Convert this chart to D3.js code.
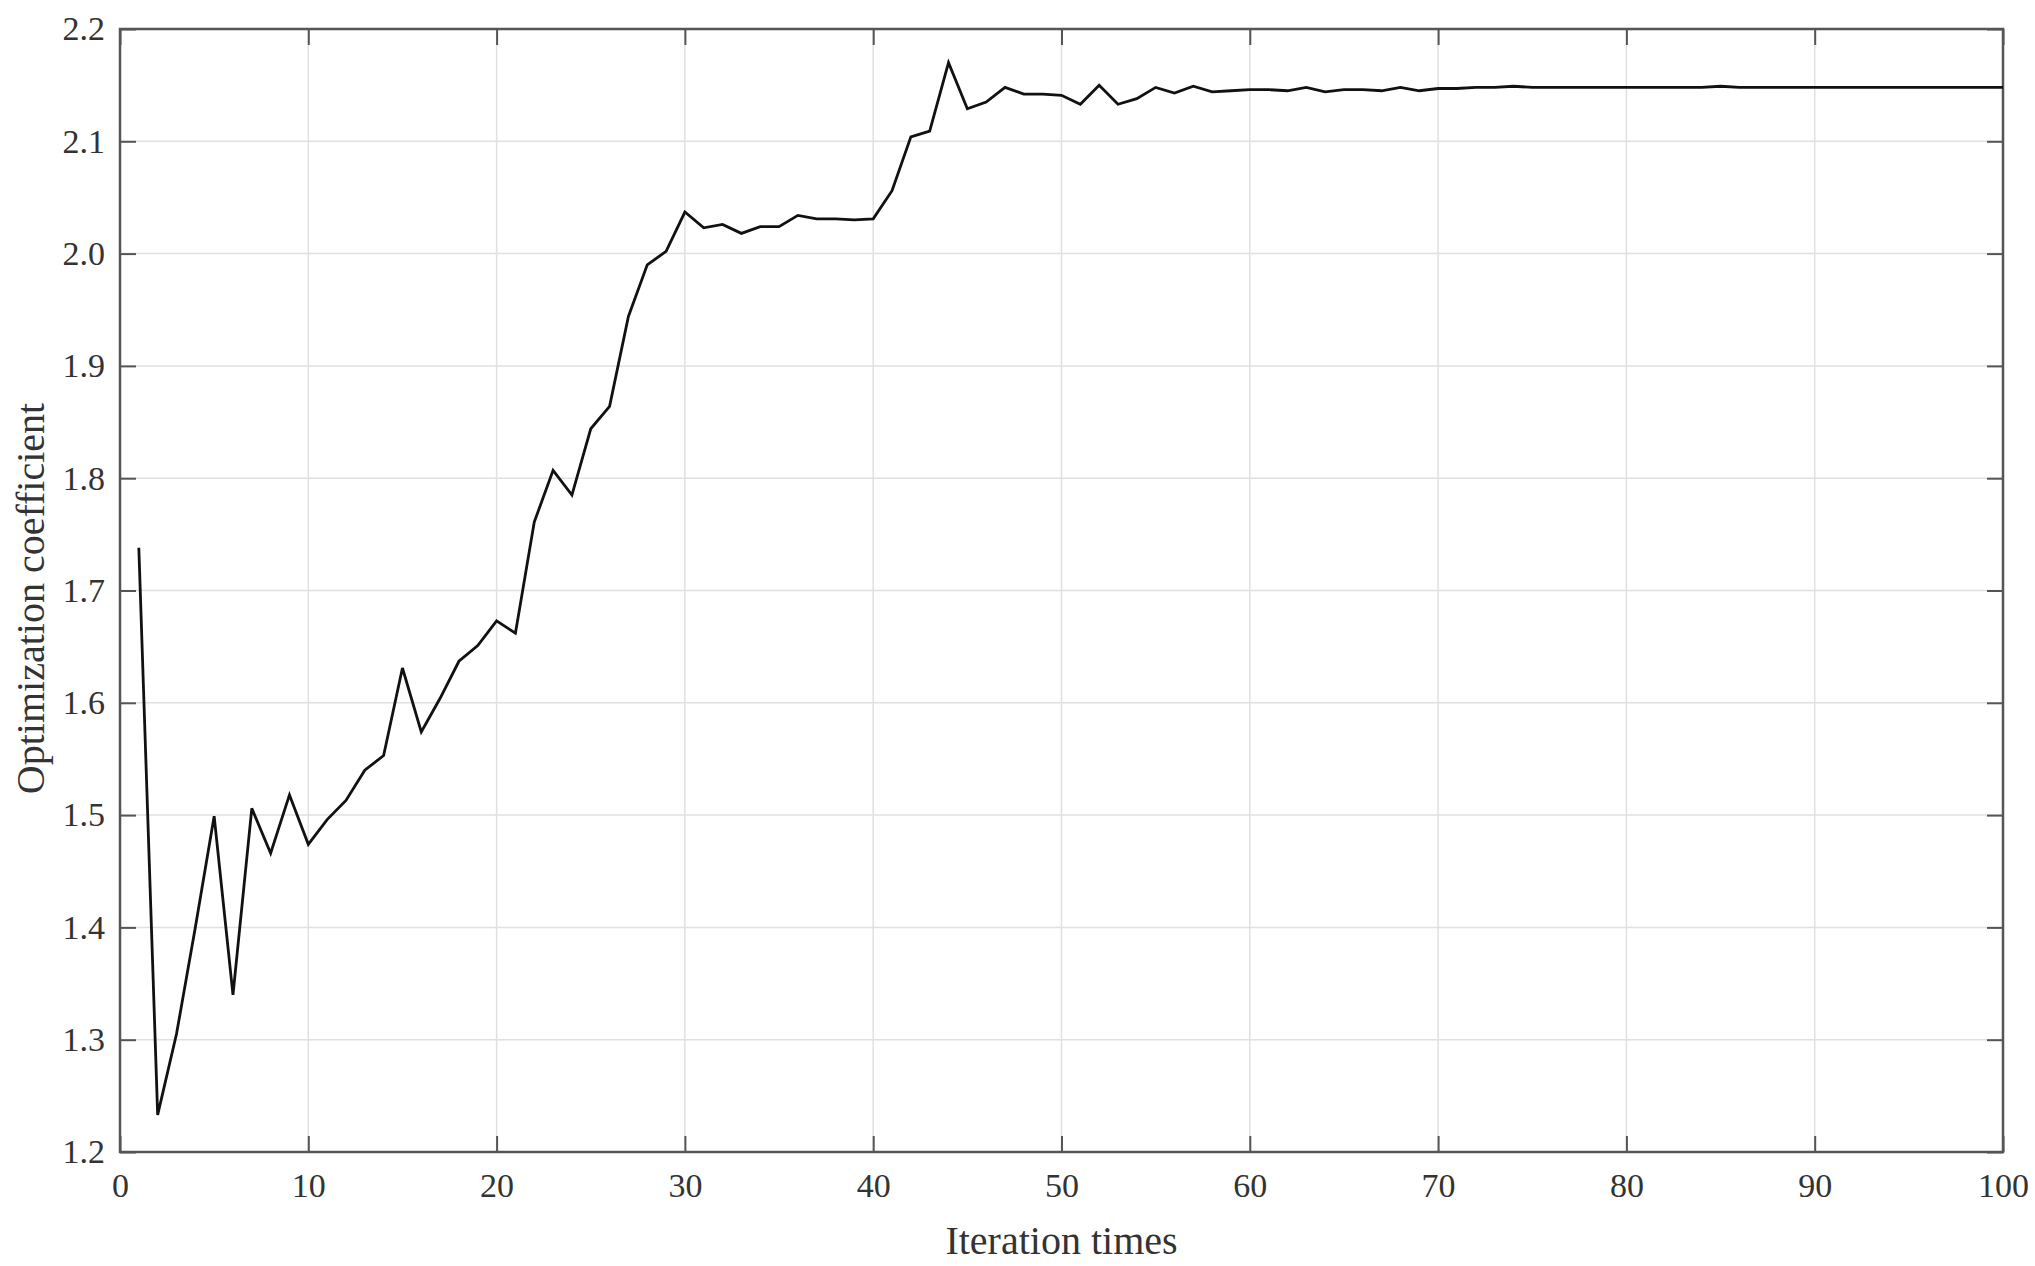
<html>
  <head>
    <meta charset="utf-8">
    <title>Optimization coefficient</title>
    <script src="https://d3js.org/d3.v7.min.js"></script>
    <style>
      body { margin: 0; background: #fff; }
      text { font-family: "Liberation Serif", "DejaVu Serif", serif; fill: #333; }
    </style>
  </head>
  <body>
    <svg id="chart" width="2035" height="1266"></svg>
    <script>

    // iteration index
    var iterations = d3.range(1, 101);

    // optimization coefficient per iteration
    var coefficient = [
      1.738, 1.233, 1.305, 1.400, 1.499, 1.340, 1.506, 1.466, 1.518, 1.474,
      1.496, 1.513, 1.540, 1.553, 1.631, 1.574, 1.604, 1.637, 1.651, 1.673,
      1.662, 1.761, 1.807, 1.785, 1.844, 1.864, 1.944, 1.990, 2.002, 2.037,
      2.023, 2.026, 2.018, 2.024, 2.024, 2.034, 2.031, 2.031, 2.030, 2.031,
      2.056, 2.104, 2.109, 2.170, 2.129, 2.135, 2.148, 2.142, 2.142, 2.141,
      2.133, 2.150, 2.133, 2.138, 2.148, 2.143, 2.149, 2.144, 2.145, 2.146,
      2.146, 2.145, 2.148, 2.144, 2.146, 2.146, 2.145, 2.148, 2.145, 2.147,
      2.147, 2.148, 2.148, 2.149, 2.148, 2.148, 2.148, 2.148, 2.148, 2.148,
      2.148, 2.148, 2.148, 2.148, 2.149, 2.148, 2.148, 2.148, 2.148, 2.148,
      2.148, 2.148, 2.148, 2.148, 2.148, 2.148, 2.148, 2.148, 2.148, 2.148
    ];

    var xTicks = [0, 10, 20, 30, 40, 50, 60, 70, 80, 90, 100];
    var yTicks = [1.2, 1.3, 1.4, 1.5, 1.6, 1.7, 1.8, 1.9, 2.0, 2.1, 2.2];

    var xTitle = "Iteration times";
    var yTitle = "Optimization coefficient";

    var margin = {top: 29, right: 32, bottom: 114, left: 120};
    var width = 2035 - margin.left - margin.right;
    var height = 1266 - margin.top - margin.bottom;

    var data = iterations.map(function(d, i) { return {x: d, y: coefficient[i]}; });

    var sx = d3.scaleLinear().domain([0, 100]).range([0, width]);
    var sy = d3.scaleLinear().domain([1.2, 2.2]).range([height, 0]);

    var svg = d3.select("#chart");
    var g = svg.append("g")
      .attr("transform", "translate(" + margin.left + "," + margin.top + ")");

    // grid
    g.append("g")
      .selectAll("line")
      .data(xTicks.slice(1, -1))
      .enter()
      .append("line")
        .attr("x1", function(d) { return sx(d); })
        .attr("x2", function(d) { return sx(d); })
        .attr("y1", 0)
        .attr("y2", height)
        .attr("stroke", "#e0e0e0")
        .attr("stroke-width", 1.5);

    g.append("g")
      .selectAll("line")
      .data(yTicks.slice(1, -1))
      .enter()
      .append("line")
        .attr("x1", 0)
        .attr("x2", width)
        .attr("y1", function(d) { return sy(d); })
        .attr("y2", function(d) { return sy(d); })
        .attr("stroke", "#e0e0e0")
        .attr("stroke-width", 1.5);

    // axes, ticks pointing inward like the original
    var tickLen = 16;

    var gx = g.append("g")
      .attr("transform", "translate(0," + height + ")")
      .call(d3.axisBottom(sx).tickValues(xTicks).tickSize(-tickLen).tickPadding(21).tickFormat(d3.format("d")));

    var gxTop = g.append("g")
      .call(d3.axisTop(sx).tickValues(xTicks).tickSize(-tickLen).tickFormat(""));

    var gy = g.append("g")
      .call(d3.axisLeft(sy).tickValues(yTicks).tickSize(-tickLen).tickPadding(15).tickFormat(d3.format(".1f")));

    var gyRight = g.append("g")
      .attr("transform", "translate(" + width + ",0)")
      .call(d3.axisRight(sy).tickValues(yTicks).tickSize(-tickLen).tickFormat(""));

    [gx, gxTop, gy, gyRight].forEach(function(a) {
      a.select(".domain").remove();
      a.selectAll(".tick line").attr("stroke", "#555").attr("stroke-width", 2);
      a.selectAll(".tick text")
        .style("font-family", "'Liberation Serif', 'DejaVu Serif', serif")
        .style("font-size", "34px")
        .attr("fill", "#333");
    });

    // box
    g.append("rect")
      .attr("x", 0)
      .attr("y", 0)
      .attr("width", width)
      .attr("height", height)
      .attr("fill", "none")
      .attr("stroke", "#555")
      .attr("stroke-width", 2.5);

    // the curve
    var line = d3.line()
      .x(function(d) { return sx(d.x); })
      .y(function(d) { return sy(d.y); });

    g.append("path")
      .datum(data)
      .attr("d", line)
      .attr("fill", "none")
      .attr("stroke", "#111")
      .attr("stroke-width", 2.8)
      .attr("stroke-linejoin", "miter");

    // axis titles
    svg.append("text")
      .attr("x", margin.left + width / 2)
      .attr("y", 1254)
      .attr("text-anchor", "middle")
      .style("font-size", "40px")
      .text(xTitle);

    svg.append("text")
      .attr("transform", "translate(44," + (margin.top + height / 2 + 8) + ") rotate(-90)")
      .attr("text-anchor", "middle")
      .style("font-size", "40px")
      .text(yTitle);

    </script>
  </body>
</html>
